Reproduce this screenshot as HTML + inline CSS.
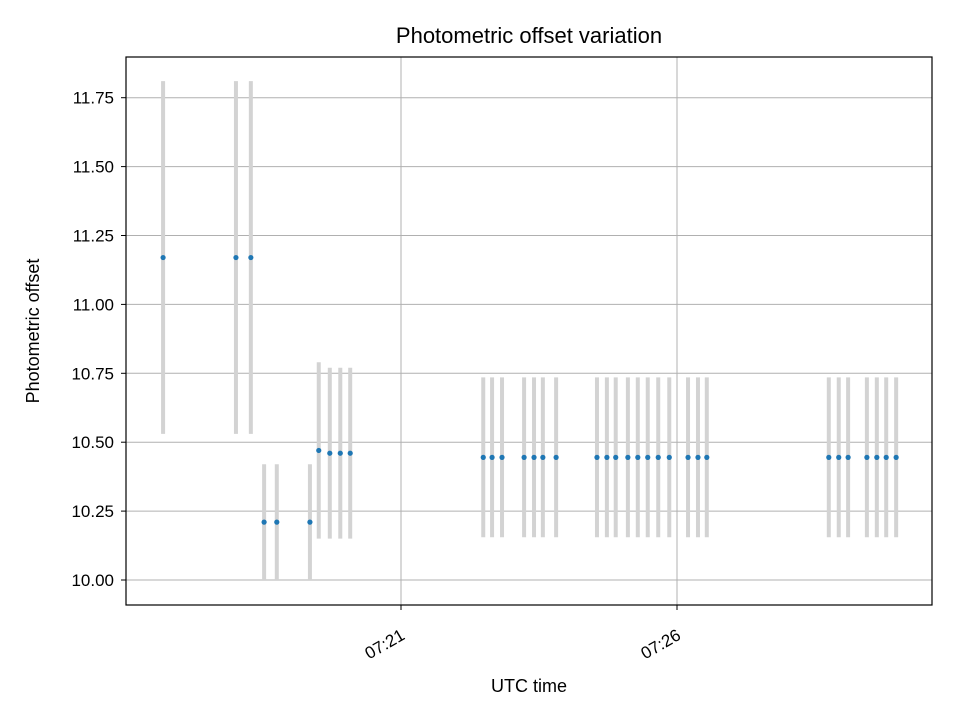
<!DOCTYPE html>
<html><head><meta charset="utf-8"><style>
body{margin:0;background:#fff;}
svg text{font-family:"Liberation Sans","DejaVu Sans",sans-serif;fill:#000;}
</style></head><body>
<svg id="chart" width="960" height="720" xmlns="http://www.w3.org/2000/svg">
<rect width="960" height="720" fill="#fff"/>
<text x="529" y="43" font-size="22" text-anchor="middle">Photometric offset variation</text>
<text x="529" y="692" font-size="18" text-anchor="middle">UTC time</text>
<text transform="translate(39,331) rotate(-90)" font-size="18" text-anchor="middle">Photometric offset</text>
<g id="grid"></g><g id="bars"></g><g id="pts"></g><g id="ticks"></g>
<rect x="126" y="57" width="806" height="548" fill="none" stroke="#000" stroke-width="1.2"/>
</svg>
<script>
// minutes after 07:00
const times=[16.69,18.01,18.28,18.52,18.75,19.35,19.51,19.71,19.90,20.08,22.49,22.65,22.83,23.23,23.41,23.57,23.81,24.55,24.73,24.89,25.11,25.29,25.47,25.66,25.86,26.20,26.38,26.54,28.75,28.93,29.10,29.44,29.62,29.79,29.97];
const values=[11.17,11.17,11.17,10.21,10.21,10.21,10.47,10.46,10.46,10.46,10.445,10.445,10.445,10.445,10.445,10.445,10.445,10.445,10.445,10.445,10.445,10.445,10.445,10.445,10.445,10.445,10.445,10.445,10.445,10.445,10.445,10.445,10.445,10.445,10.445];
const errors=[0.64,0.64,0.64,0.21,0.21,0.21,0.32,0.31,0.31,0.31,0.29,0.29,0.29,0.29,0.29,0.29,0.29,0.29,0.29,0.29,0.29,0.29,0.29,0.29,0.29,0.29,0.29,0.29,0.29,0.29,0.29,0.29,0.29,0.29,0.29];
const yTicks=[10.00,10.25,10.50,10.75,11.00,11.25,11.50,11.75];
const xTicks=[21,26];
const xTickLabels=["07:21","07:26"];
const NS="http://www.w3.org/2000/svg";
const xs=t=>401+(t-21)*55.2;
const ys=v=>580-(v-10)*275.6;
function mk(tag,attrs,parent){const e=document.createElementNS(NS,tag);for(const k in attrs)e.setAttribute(k,attrs[k]);document.getElementById(parent).appendChild(e);return e;}
yTicks.forEach(v=>{const y=ys(v);
 const g=mk('line',{x1:126,x2:932,y1:y,y2:y,stroke:'#b0b0b0','stroke-width':1},'grid');
 
 
 const tk=mk('line',{x1:121,x2:126,y1:y,y2:y,stroke:'#000'},'ticks');
 
 
 const t=mk('text',{x:114,y:y+6,'font-size':17,'text-anchor':'end'},'ticks');
 
 
 t.textContent=v.toFixed(2);});
xTicks.forEach((v,i)=>{const x=xs(v);
 const g=mk('line',{x1:x,x2:x,y1:57,y2:605,stroke:'#b0b0b0','stroke-width':1},'grid');
 
 
 const tk=mk('line',{x1:x,x2:x,y1:605,y2:610,stroke:'#000'},'ticks');
 
 
 const t=mk('text',{transform:`translate(${x-1},${628}) rotate(-30)`,'font-size':17,'text-anchor':'end',dy:12},'ticks');
 
 
 t.textContent=xTickLabels[i];});
times.forEach((tm,i)=>{const x=xs(tm);
 const b=mk('line',{x1:x,x2:x,y1:ys(values[i]+errors[i]),y2:ys(values[i]-errors[i]),stroke:'#d3d3d3','stroke-width':4},'bars');
 
 
 const c=mk('circle',{cx:x,cy:ys(values[i]),r:2.6,fill:'#1f77b4'},'pts');
 
 });
</script>
</body></html>
